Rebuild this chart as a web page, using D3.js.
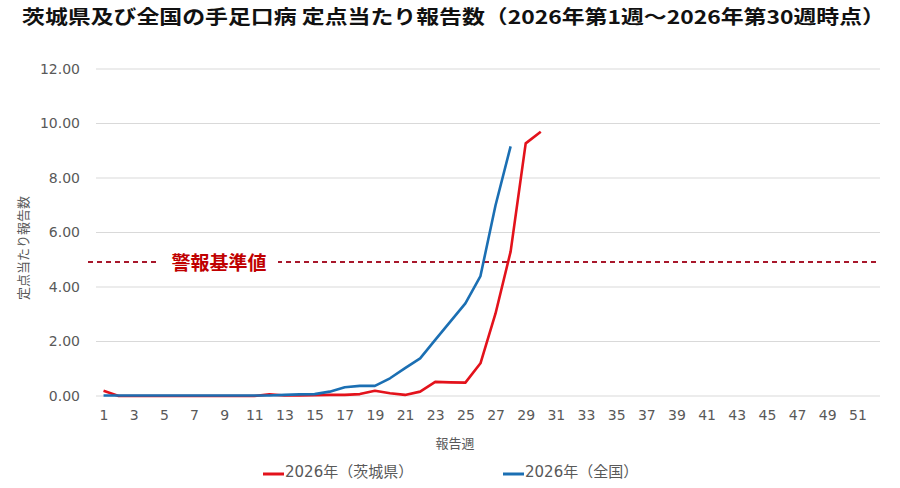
<!DOCTYPE html>
<html>
<head>
<meta charset="utf-8">
<script src="https://cdn.jsdelivr.net/npm/d3@7"></script>
<style>
  body { margin: 0; background: #fff; }
  text { font-family: "DejaVu Sans", "Noto Sans CJK JP", sans-serif; }
</style>
</head>
<body>
<div id="vis"></div>
<script>
const TITLE = "茨城県及び全国の手足口病 定点当たり報告数（2026年第1週～2026年第30週時点）";

// weeks 1..52 on the category axis
const weeks = d3.range(1, 53);
const weekTicks = weeks.filter(w => w % 2 === 1);
const yTicks = [0, 2, 4, 6, 8, 10, 12];

// 2026 Ibaraki, weeks 1..30
const ibaraki = [0.19, 0, 0, 0, 0, 0, 0, 0, 0, 0,
  0, 0.06, 0.02, 0.02, 0.03, 0.04, 0.04, 0.07, 0.19, 0.10,
  0.04, 0.16, 0.52, 0.50, 0.49, 1.20, 3.03, 5.30, 9.27, 9.70];

// 2026 national, weeks 1..28
const national = [0.02, 0.02, 0.02, 0.02, 0.02, 0.02, 0.02, 0.02, 0.02, 0.02,
  0.02, 0.02, 0.04, 0.06, 0.07, 0.16, 0.32, 0.37, 0.37, 0.65,
  1.02, 1.38, 2.06, 2.73, 3.40, 4.40, 7.00, 9.16];

const alertLevel = 4.92;
const alertLabel = "警報基準値";

const seriesNames = ["2026年（茨城県）", "2026年（全国）"];
const seriesColors = ["#e3121b", "#1b6fb3"];

const W = 900, H = 488;
const plot = { left: 96, right: 880, top: 69, bottom: 396 };

const svg = d3.select("#vis").append("svg")
  .attr("width", W).attr("height", H)
  .style("display", "block");

const x = d3.scalePoint().domain(weeks)
  .range([plot.left, plot.right]).padding(0.5);
const y = d3.scaleLinear().domain([0, 12]).range([plot.bottom, plot.top]);

// title
svg.append("text")
  .attr("x", 22).attr("y", 24)
  .attr("textLength", 863).attr("lengthAdjust", "spacingAndGlyphs")
  .style("font-family", "'Noto Sans CJK JP', sans-serif")
  .style("font-weight", 700).style("font-size", "19px")
  .attr("fill", "#111")
  .text(TITLE);

// gridlines
svg.append("g").selectAll("line").data(yTicks).join("line")
  .attr("x1", plot.left).attr("x2", plot.right)
  .attr("y1", d => y(d)).attr("y2", d => y(d))
  .attr("stroke", "#d9d9d9").attr("stroke-width", 1);

// y axis
const yAxis = svg.append("g")
  .attr("transform", `translate(${plot.left - 16},0)`)
  .call(d3.axisLeft(y).tickValues(yTicks).tickFormat(d3.format(".2f")).tickSize(0).tickPadding(0));
yAxis.select(".domain").remove();
yAxis.selectAll("text").attr("fill", "#595959").style("font-size", "14px");

// x axis
const xAxis = svg.append("g")
  .attr("transform", `translate(0,${plot.bottom + 14})`)
  .call(d3.axisBottom(x).tickValues(weekTicks).tickSize(0).tickPadding(0));
xAxis.select(".domain").remove();
xAxis.selectAll("text").attr("fill", "#595959").style("font-size", "14px");

// axis titles
svg.append("text")
  .attr("x", 455).attr("y", 448)
  .attr("text-anchor", "middle")
  .style("font-family", "'Noto Sans CJK JP', sans-serif")
  .style("font-size", "13px").attr("fill", "#595959")
  .text("報告週");

svg.append("text")
  .attr("transform", "translate(28,248) rotate(-90)")
  .attr("text-anchor", "middle")
  .style("font-family", "'Noto Sans CJK JP', sans-serif")
  .style("font-size", "13px").attr("fill", "#595959")
  .text("定点当たり報告数");

// alert threshold
svg.append("line")
  .attr("x1", plot.left - 8).attr("x2", plot.right)
  .attr("y1", y(alertLevel)).attr("y2", y(alertLevel))
  .attr("stroke", "#a8172b").attr("stroke-width", 2)
  .attr("stroke-dasharray", "5,4");
svg.append("rect")
  .attr("x", 160).attr("y", y(alertLevel) - 14)
  .attr("width", 118).attr("height", 28).attr("fill", "#fff");
svg.append("text")
  .attr("x", 219).attr("y", y(alertLevel))
  .attr("text-anchor", "middle").attr("dominant-baseline", "central")
  .style("font-family", "'Noto Sans CJK JP', sans-serif")
  .style("font-weight", 700).style("font-size", "19px")
  .attr("fill", "#c00000")
  .text(alertLabel);

// lines
const line = d3.line().x((d, i) => x(weeks[i])).y(d => y(d));
[ibaraki, national].forEach((vals, i) => {
  svg.append("path")
    .datum(vals)
    .attr("d", line)
    .attr("fill", "none")
    .attr("stroke", seriesColors[i])
    .attr("stroke-width", 2.6)
    .attr("stroke-linejoin", "round");
});

// legend
const legendX = [263, 503];
const legend = svg.append("g").selectAll("g").data(seriesNames).join("g")
  .attr("transform", (d, i) => `translate(${legendX[i]},472)`);
legend.append("line")
  .attr("x1", 0).attr("x2", 21).attr("y1", 2).attr("y2", 2)
  .attr("stroke", (d, i) => seriesColors[i]).attr("stroke-width", 3);
legend.append("text")
  .attr("x", 22).attr("y", 0)
  .attr("dominant-baseline", "central")
  .style("font-size", "15px").attr("fill", "#595959")
  .text(d => d);
</script>
</body>
</html>
